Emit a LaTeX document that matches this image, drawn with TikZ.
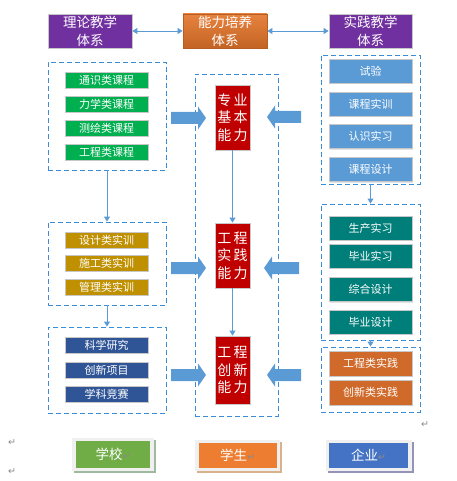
\documentclass[tikz,border=0pt]{standalone}
\usepackage{fontspec}
\setmainfont{Noto Sans CJK SC}
\newfontfamily\djv{DejaVu Sans}
\usetikzlibrary{arrows.meta,shadows}
\definecolor{dashblue}{HTML}{3A8DD6}
\definecolor{arrblue}{HTML}{5B9BD5}
\definecolor{cpurple}{HTML}{7030A0}
\definecolor{corange}{HTML}{E5752A}
\definecolor{cgreen}{HTML}{00B050}
\definecolor{cgold}{HTML}{BF9000}
\definecolor{cnavy}{HTML}{2F5597}
\definecolor{cred}{HTML}{C00000}
\definecolor{cteal}{HTML}{007F7A}
\definecolor{corange2}{HTML}{D06A2B}
\definecolor{bgreen}{HTML}{70AD47}
\definecolor{borange}{HTML}{ED7D31}
\definecolor{bblue}{HTML}{4472C4}
\definecolor{pmark}{HTML}{8A8A8A}
\newcommand\myfatright[3]{\fill[arrblue] (#1,{#3-6}) -- ({#2-8},{#3-6}) -- ({#2-8},{#3-11.5}) -- (#2,#3) -- ({#2-8},{#3+11.5}) -- ({#2-8},{#3+6}) -- (#1,{#3+6}) -- cycle;}
\newcommand\myfatleft[3]{\fill[arrblue] (#1,{#3-6}) -- ({#2+8},{#3-6}) -- ({#2+8},{#3-11.5}) -- (#2,#3) -- ({#2+8},{#3+11.5}) -- ({#2+8},{#3+6}) -- (#1,{#3+6}) -- cycle;}
\newcommand\pmk{{\djv\fontsize{9.5}{9.5}\selectfont\color{pmark}↵}}
\begin{document}
\begin{tikzpicture}[x=1pt,y=-1pt,
  box/.style={draw=black!22, line width=0.8pt, text=white, inner sep=0pt, align=center,
    drop shadow={opacity=0.22,shadow xshift=1pt,shadow yshift=-1.2pt}},
  topbox/.style={box, minimum width=84pt, minimum height=34pt, font=\fontsize{13.5}{18}\selectfont},
  item/.style={box, minimum width=83pt, minimum height=16pt, font=\fontsize{11}{12}\selectfont},
  ritem/.style={box, minimum width=83pt, minimum height=24pt, font=\fontsize{11}{12}\selectfont},
  ability/.style={box, fill=cred, minimum width=35pt, font=\fontsize{14}{17.5}\selectfont},
  grp/.style={draw=dashblue, line width=0.9pt, dash pattern=on 5pt off 3pt, minimum width=#1, inner sep=0pt},
  conn/.style={draw=arrblue, line width=0.9pt, -{Triangle[width=6pt,length=5pt]}},
  dconn/.style={draw=arrblue, line width=0.9pt, {Triangle[width=6pt,length=5pt]}-{Triangle[width=6pt,length=5pt]}},
  outer/.style={fill=black!6, inner sep=0pt, drop shadow={fill=#1, opacity=1, shadow xshift=2pt, shadow yshift=-2pt}},
  inner/.style={fill=#1, inner sep=0pt, text=white, font=\fontsize{13.5}{15}\selectfont},
]
\useasboundingbox (0,0) rectangle (456,481);

% top row
\node[topbox, fill=cpurple] (t1) at (90,31) {理论教学\\体系};
\node[topbox, top color=corange!90!white, bottom color=corange!85!black, draw=corange!80!black] (t2) at (225,31) {能力培养\\体系};
\node[topbox, fill=cpurple, minimum width=83pt] (t3) at (370.5,31) {实践教学\\体系};
\draw[dconn] (t1.east) -- (t2.west);
\draw[dconn] (t2.east) -- (t3.west);

% dashed groups
\node[grp=118pt, minimum height=108pt] (gL1) at (107,116) {};
\node[grp=118pt, minimum height=83pt] (gL2) at (107,263.5) {};
\node[grp=118pt, minimum height=86pt] (gL3) at (107,370) {};
\node[grp=83pt, minimum height=342pt] (gM) at (236.5,245) {};
\node[grp=99pt, minimum height=129pt] (gR1) at (370.5,119.5) {};
\node[grp=99pt, minimum height=136pt] (gR2) at (370.5,272) {};
\node[grp=99pt, minimum height=65pt] (gR3) at (370.5,379.5) {};

% left items
\node[item, fill=cgreen] (a1) at (106.5,80) {通识类课程};
\node[item, fill=cgreen] (a2) at (106.5,104) {力学类课程};
\node[item, fill=cgreen] (a3) at (106.5,128) {测绘类课程};
\node[item, fill=cgreen] (a4) at (106.5,152) {工程类课程};
\node[item, fill=cgold] (b1) at (106.5,240) {设计类实训};
\node[item, fill=cgold] (b2) at (106.5,263) {施工类实训};
\node[item, fill=cgold] (b3) at (106.5,287) {管理类实训};
\node[item, fill=cnavy] (c1) at (106.5,345) {科学研究};
\node[item, fill=cnavy] (c2) at (106.5,370) {创新项目};
\node[item, fill=cnavy] (c3) at (106.5,394) {学科竞赛};

% right items
\node[ritem, fill=arrblue] (d1) at (370.5,71) {试验};
\node[ritem, fill=arrblue] (d2) at (370.5,104) {课程实训};
\node[ritem, fill=arrblue] (d3) at (370.5,136.5) {认识实习};
\node[ritem, fill=arrblue] (d4) at (370.5,169.5) {课程设计};
\node[ritem, fill=cteal] (e1) at (370.5,228) {生产实习};
\node[ritem, fill=cteal] (e2) at (370.5,256) {毕业实习};
\node[ritem, fill=cteal] (e3) at (370.5,289.5) {综合设计};
\node[ritem, fill=cteal] (e4) at (370.5,322) {毕业设计};
\node[ritem, fill=corange2, minimum height=25pt] (f1) at (370.5,363.5) {工程类实践};
\node[ritem, fill=corange2, minimum height=25pt] (f2) at (370.5,392.5) {创新类实践};

% abilities
\node[ability, minimum height=65pt] (r1) at (232.5,117.5) {专\,业\\基\,本\\能\,力};
\node[ability, minimum height=65pt] (r2) at (232.5,255.5) {工\,程\\实\,践\\能\,力};
\node[ability, minimum height=68pt] (r3) at (232.5,370) {工\,程\\创\,新\\能\,力};

% thin connectors
\draw[conn] (gL1.south) -- (gL2.north);
\draw[conn] (gL2.south) -- (gL3.north);
\draw[conn] (r1.south) -- (r2.north);
\draw[conn] (r2.south) -- (r3.north);
\draw[conn] (gR1.south) -- (gR2.north);
\draw[conn] (gR2.south) -- (gR3.north);

% block arrows
\myfatright{171}{206}{118}
\myfatright{171}{206}{268}
\myfatright{171}{206}{375}
\myfatleft{301}{267}{117}
\myfatleft{299}{264}{268}
\myfatleft{301}{267}{375}

% bottom boxes
\node[outer=black!30!green!25!gray!60, minimum width=82pt, minimum height=33pt] (o1) at (113,454.5) {};
\node[inner=bgreen, minimum width=74pt, minimum height=27pt] (s1) at (113,454.5) {学校\pmk};
\node[outer=brown!60, minimum width=85pt, minimum height=31pt] (o2) at (237.5,455.5) {};
\node[inner=borange, minimum width=78pt, minimum height=25pt] (s2) at (237.5,455.5) {学生\pmk};
\node[outer=blue!20!gray!70, minimum width=86pt, minimum height=31pt] (o3) at (369,455.5) {};
\node[inner=bblue, minimum width=79pt, minimum height=25pt] (s3) at (368.5,455.5) {企业\pmk};

% paragraph marks
\node[inner sep=0pt] (p1) at (12,443) {\pmk};
\node[inner sep=0pt] (p2) at (12,472) {\pmk};
\node[inner sep=0pt] (p3) at (425,425) {\pmk};
\end{tikzpicture}
\end{document}
